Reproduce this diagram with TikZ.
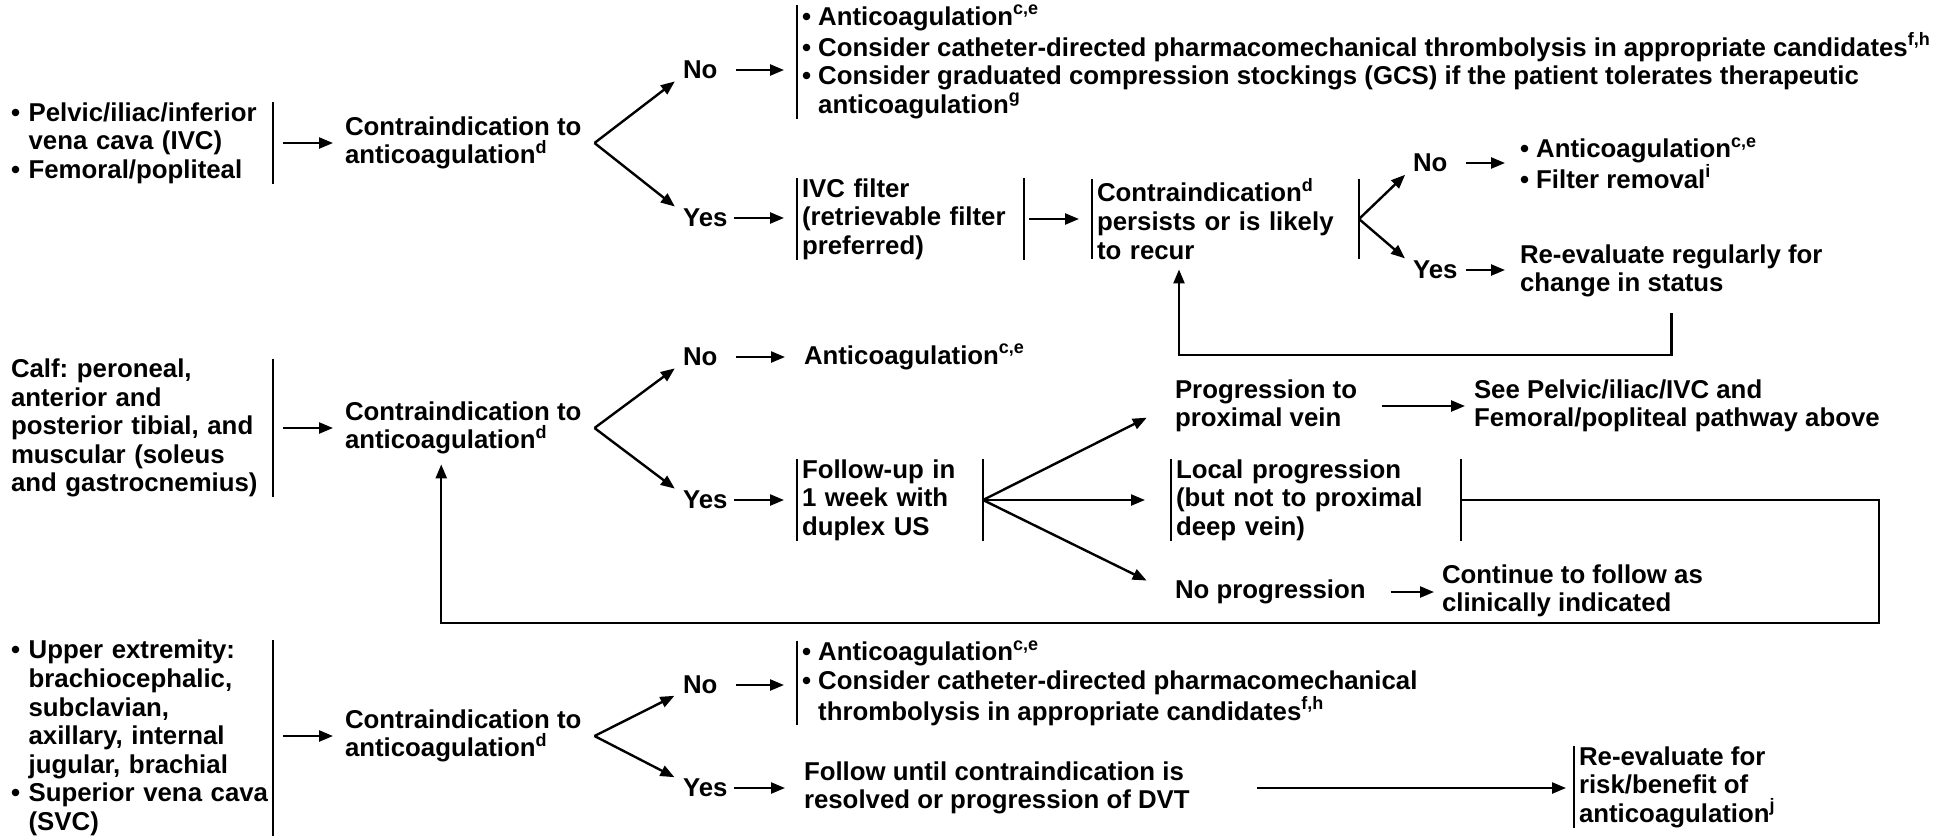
\documentclass[tikz,border=0pt]{standalone}
\usepackage{fontspec}
\setmainfont{Liberation Sans}
\usetikzlibrary{arrows.meta,positioning}

\newcommand{\bitem}{\textbullet\ }
\newcommand{\bcont}{\phantom{\textbullet\ }}
\newcommand{\fn}[1]{\raisebox{0.4em}{\fontsize{9}{9}\selectfont #1}}
\frenchspacing

\begin{document}
\begin{tikzpicture}
      [ x=0.5pt, y=-0.5pt,
        every node/.style={font=\fontsize{12.9}{14.3}\selectfont\bfseries,
          inner xsep=2.5pt, inner ysep=0pt, outer sep=0pt, anchor=west, align=left},
        leftcol/.style={inner xsep=0pt, text width=131pt},
        ans/.style={text width=23pt},
        go/.style={-{Triangle[length=7pt,width=5.5pt]}, line width=1.2pt},
        bar/.style={line width=1.2pt}
      ]
      \useasboundingbox (0,0) rectangle (1957,836);

      \node[leftcol] (src1) at (11,143)  {\bitem Pelvic/iliac/inferior\\ \bcont vena cava (IVC)\\ \bitem Femoral/popliteal};
      \node          (ci1)  at (340,143) {Contraindication to\\anticoagulation\fn{d}};
      \coordinate    (b1)   at ([xshift=4pt]ci1.east);
      \node[ans]     (no1)  at (678,70)  {No};
      \node[ans]     (yes1) at (678,218) {Yes};
      \node          (lst1) at (797,62)  {\bitem Anticoagulation\fn{c,e}\\
        \bitem Consider catheter-directed pharmacomechanical thrombolysis in appropriate candidates\fn{f,h}\\
        \bitem Consider graduated compression stockings (GCS) if the patient tolerates therapeutic\\
        \bcont anticoagulation\fn{g}};
      \node[text width=108.5pt] (ivc) at (797,219) {IVC filter\\(retrievable filter\\preferred)};
      \node[text width=128.5pt] (ci2) at (1092,219) {Contraindication\fn{d}\\persists or is likely\\to recur};
      \node[ans]     (no2)  at (1408,163) {No};
      \node[ans]     (yes2) at (1408,270) {Yes};
      \node          (ai)   at (1515,163) {\bitem Anticoagulation\fn{c,e}\\\bitem Filter removal\fn{i}};
      \node          (rev1) at (1515,271) {Re-evaluate regularly for\\change in status};
      \coordinate    (lp1)  at (1179,355);

      \node[leftcol] (calf) at (11,428)  {Calf: peroneal,\\anterior and\\posterior tibial, and\\muscular (soleus\\and gastrocnemius)};
      \node          (ci3)  at (340,428) {Contraindication to\\anticoagulation\fn{d}};
      \coordinate    (b3)   at ([xshift=4pt]ci3.east);
      \node[ans]     (no3)  at (678,357) {No};
      \node[ans]     (yes3) at (678,500) {Yes};
      \node          (ac3)  at (799,357) {Anticoagulation\fn{c,e}};
      \node[text width=88pt] (fu) at (797,500) {Follow-up in\\1 week with\\duplex US};
      \node          (prog) at (1170,406) {Progression to\\proximal vein};
      \node[text width=140pt] (loc) at (1171,500) {Local progression\\(but not to proximal\\deep vein)};
      \node          (nop)  at (1170,592) {No progression};
      \node          (see)  at (1469,406) {See Pelvic/iliac/IVC and\\Femoral/popliteal pathway above};
      \node          (cont) at (1437,591) {Continue to follow as\\clinically indicated};
      \coordinate    (lp2)  at (1879,623);

      \node[leftcol] (upx)  at (11,738)  {\bitem Upper extremity:\\ \bcont brachiocephalic,\\ \bcont subclavian,\\ \bcont axillary, internal\\ \bcont jugular, brachial\\ \bitem Superior vena cava\\ \bcont (SVC)};
      \node          (ci5)  at (340,736) {Contraindication to\\anticoagulation\fn{d}};
      \coordinate    (b5)   at ([xshift=4pt]ci5.east);
      \node[ans]     (no5)  at (678,685) {No};
      \node[ans]     (yes5) at (678,788) {Yes};
      \node          (lst5) at (797,683) {\bitem Anticoagulation\fn{c,e}\\
        \bitem Consider catheter-directed pharmacomechanical\\
        \bcont thrombolysis in appropriate candidates\fn{f,h}};
      \node          (fol)  at (799,788) {Follow until contraindication is\\resolved or progression of DVT};
      \node          (rev3) at (1574,787) {Re-evaluate for\\risk/benefit of\\anticoagulation\fn{j}};

      \foreach \n in {lst1,ivc,ci2,fu,loc,lst5,rev3}
        \draw[bar] (\n.north west) -- (\n.south west);
      \foreach \n in {src1,calf,upx,ivc,ci2,fu,loc}
        \draw[bar] (\n.north east) -- (\n.south east);

      \draw[go, shorten <=5pt, shorten >=3.5pt] (src1.east |- ci1.west) -- (ci1.west);
      \draw[go, shorten >=2pt] (b1) -- (no1.south west);
      \draw[go, shorten >=2pt] (b1) -- (yes1.north west);
      \draw[go, shorten <=1pt, shorten >=6.5pt] (no1.east) -- (no1.east -| lst1.west);
      \draw[go, shorten >=6.5pt] (yes1.east) -- (yes1.east -| ivc.west);
      \draw[go, shorten <=2.5pt, shorten >=6.5pt] (ivc.east) -- (ci2.west);
      \draw[go, shorten >=2pt] (ci2.east) -- (no2.south west);
      \draw[go, shorten >=2pt] (ci2.east) -- (yes2.north west);
      \draw[go, shorten <=1pt, shorten >=5pt] (no2.east) -- (no2.east -| ai.west);
      \draw[go, shorten <=1pt, shorten >=5pt] (yes2.east) -- (yes2.east -| rev1.west);
      \draw[go, shorten >=5pt] ([yshift=-8pt]rev1.south) |- (lp1) -- (lp1 |- ci2.south);

      \draw[go, shorten <=5pt, shorten >=3.5pt] (calf.east |- ci3.west) -- (ci3.west);
      \draw[go, shorten >=2pt] (b3) -- (no3.south west);
      \draw[go, shorten >=2pt] (b3) -- (yes3.north west);
      \draw[go, shorten <=1pt, shorten >=7pt] (no3.east) -- (no3.east -| ac3.west);
      \draw[go, shorten >=6.5pt] (yes3.east) -- (yes3.east -| fu.west);
      \draw[go, shorten >=13pt] (fu.east) -- (prog.west);
      \draw[go, shorten >=13pt] (fu.east) -- (loc.west);
      \draw[go, shorten >=13pt] (fu.east) -- (nop.west);
      \draw[go, shorten <=10pt, shorten >=2pt] (prog.east) -- (prog.east -| see.west);
      \draw[go, shorten <=10pt, shorten >=1.5pt] (nop.east) -- (nop.east -| cont.west);
      \draw[go, shorten >=5pt] (loc.east) -| (lp2) -| ([xshift=-11pt]ci3.south);

      \draw[go, shorten <=5pt, shorten >=3.5pt] (upx.east |- ci5.west) -- (ci5.west);
      \draw[go, shorten >=2pt] (b5) -- (no5.south west);
      \draw[go, shorten >=2pt] (b5) -- (yes5.north west);
      \draw[go, shorten <=1pt, shorten >=6.5pt] (no5.east) -- (no5.east -| lst5.west);
      \draw[go, shorten >=7pt] (yes5.east) -- (yes5.east -| fol.west);
      \draw[go, shorten <=31pt, shorten >=4pt] (fol.east) -- (fol.east -| rev3.west);
    \end{tikzpicture}
\end{document}
